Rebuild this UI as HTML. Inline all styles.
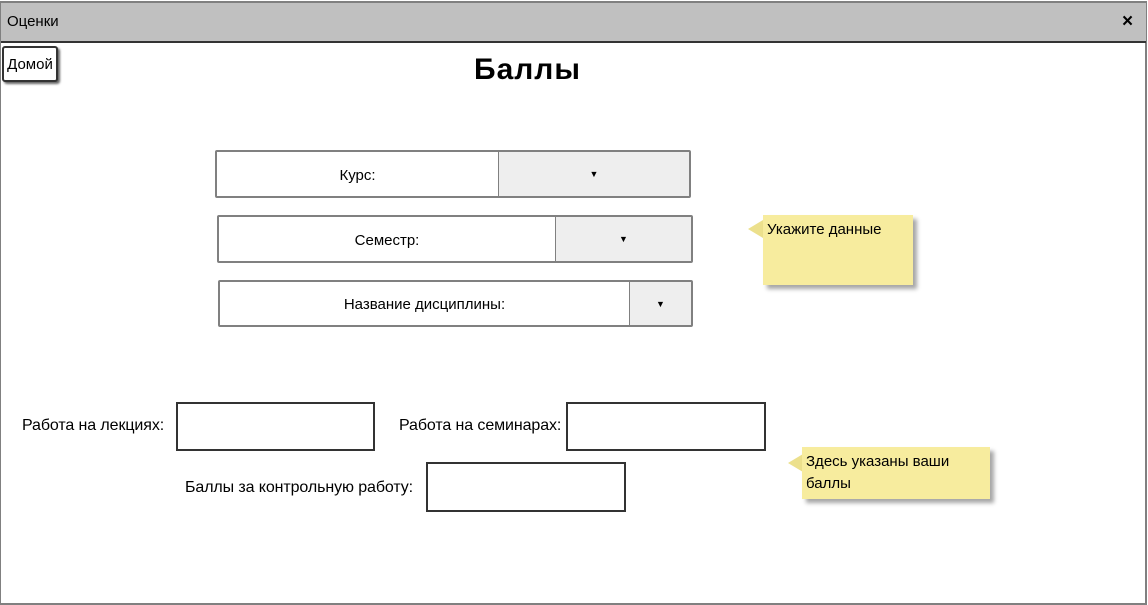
<!DOCTYPE html>
<html><head><meta charset="utf-8"><style>
*{margin:0;padding:0;box-sizing:border-box}
body{width:1148px;height:605px;position:relative;background:#fff;font-family:"Liberation Sans","DejaVu Sans",sans-serif;color:#000;overflow:hidden}
.a{position:absolute}
.frame{left:0;top:1px;width:1147px;height:604px;border:2px solid #808080;border-left:1px solid #808080}
.bar{left:1px;top:1px;width:1145px;height:42px;background:#c0c0c0;border-top:2px solid #808080;border-bottom:2px solid #333}
.sel{border:2px solid #808080;border-radius:2px;background:#fff;display:flex;font-size:15px}
.sel .l{flex:1;display:flex;align-items:center;justify-content:center;padding-top:2px}
.sel .r{background:#eee;border-left:1px solid #808080;display:flex;align-items:center;justify-content:center;font-size:9px}
.box{border:2px solid #333;background:#fff}
.lbl{font-size:16px;letter-spacing:-0.1px}
.note{background:#f7ec9e;box-shadow:4px 4px 4px rgba(0,0,0,.35);font-size:15px;padding:5px 4px;line-height:22px}
.tri{width:0;height:0;border-top:9px solid transparent;border-bottom:9px solid transparent;border-right:15px solid #ece08c}
</style></head><body>
<div class="a frame"></div>
<div class="a bar"></div>
<div class="a" style="left:7px;top:13px;font-size:15px">Оценки</div>
<div class="a" style="left:1122px;top:11px;font-size:19px;font-weight:bold">×</div>
<div class="a" style="left:2px;top:46px;width:56px;height:36px;border:2px solid #333;border-radius:3px;background:#fff;box-shadow:2px 2px 2px #666;font-size:15px;display:flex;align-items:center;justify-content:center">Домой</div>
<div class="a" style="left:474px;top:53px;font-size:30px;font-weight:bold;letter-spacing:1px">Баллы</div>

<div class="a sel" style="left:215px;top:150px;width:476px;height:48px"><div class="l">Курс:</div><div class="r" style="width:191px">▼</div></div>
<div class="a sel" style="left:217px;top:215px;width:476px;height:48px"><div class="l">Семестр:</div><div class="r" style="width:136px">▼</div></div>
<div class="a sel" style="left:218px;top:280px;width:475px;height:47px"><div class="l">Название дисциплины:</div><div class="r" style="width:62px">▼</div></div>

<div class="a tri" style="left:748px;top:220px"></div>
<div class="a note" style="left:763px;top:215px;width:150px;height:70px;padding-top:4px">Укажите данные</div>
<div class="a tri" style="left:788px;top:454px"></div>
<div class="a note" style="left:802px;top:447px;width:188px;height:52px;padding-top:4px">Здесь указаны ваши<br>баллы</div>

<div class="a lbl" style="left:22px;top:417px">Работа на лекциях:</div>
<div class="a box" style="left:176px;top:402px;width:199px;height:49px"></div>
<div class="a lbl" style="left:399px;top:417px">Работа на семинарах:</div>
<div class="a box" style="left:566px;top:402px;width:200px;height:49px"></div>
<div class="a lbl" style="left:185px;top:479px">Баллы за контрольную работу:</div>
<div class="a box" style="left:426px;top:462px;width:200px;height:50px"></div>
</body></html>
